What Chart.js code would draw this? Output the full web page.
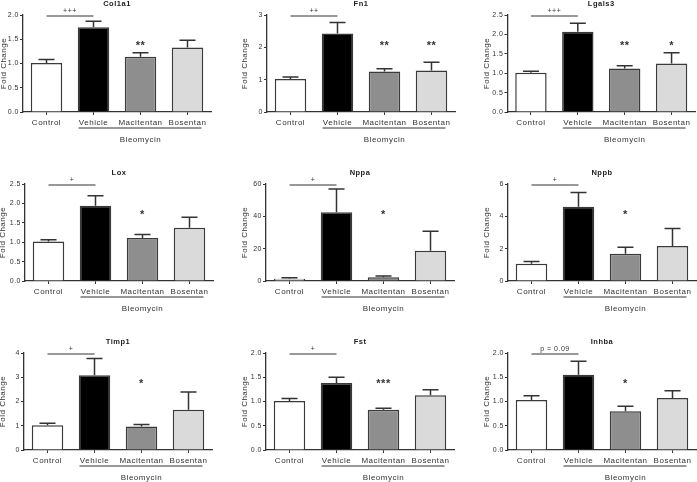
<!DOCTYPE html>
<html>
<head>
<meta charset="utf-8">
<script src="https://cdn.jsdelivr.net/npm/chart.js@4.4.1/dist/chart.umd.min.js"></script>
<style>
  body { margin: 0; background: #fff; width: 697px; height: 482px; overflow: hidden; position: relative; }
  canvas { position: absolute; }
</style>
</head>
<body>
<script>
// groups on the x axis of every panel
const groups = ['Control', 'Vehicle', 'Macitentan', 'Bosentan'];
const genes = ['Col1a1', 'Fn1', 'Lgals3', 'Lox', 'Nppa', 'Nppb', 'Timp1', 'Fst', 'Inhba'];

// mean fold change per gene, one array per group
const controlMean    = [1.01, 1.02, 1.01, 1.02, 1.4, 1.07, 1.02, 1.01, 1.03];
const vehicleMean    = [1.75, 2.43, 2.07, 1.94, 42.5, 4.60, 3.08, 1.38, 1.55];
const macitentanMean = [1.14, 1.25, 1.12, 1.11, 2.3, 1.68, 0.97, 0.83, 0.80];
const bosentanMean   = [1.33, 1.28, 1.25, 1.37, 18.7, 2.16, 1.66, 1.13, 1.07];

// upper error (SEM) per gene
const controlErr    = [0.07, 0.06, 0.04, 0.04, 0.6, 0.14, 0.08, 0.05, 0.09];
const vehicleErr    = [0.12, 0.34, 0.22, 0.26, 14.4, 0.87, 0.69, 0.12, 0.28];
const macitentanErr = [0.08, 0.09, 0.07, 0.09, 0.8, 0.40, 0.08, 0.03, 0.10];
const bosentanErr   = [0.15, 0.26, 0.28, 0.27, 12.1, 1.09, 0.73, 0.11, 0.15];

// y axis range and tick step per gene
const yMax  = [2, 3, 2.5, 2.5, 60, 6, 4, 2, 2];
const yStep = [0.5, 1, 0.5, 0.5, 20, 2, 1, 0.5, 0.5];

// Control vs Vehicle bracket label, and stars over Macitentan / Bosentan
const bracketLabel = ['+++', '++', '+++', '+', '+', '+', '+', '+', 'p = 0.09'];
const macitentanStar = ['**', '**', '**', '*', '*', '*', '*', '***', '*'];
const bosentanStar   = ['', '**', '*', '', '', '', '', '', ''];

// layout of the 3x3 grid (axis corner of each plot)
const axisX = [23, 267, 507, 25, 266, 508, 24, 266, 508];
const yAxisW = [24, 27, 25.5, 27, 26, 26, 26, 26, 26];
const rowTop = [15.3, 183.5, 352.5];
const plotW = 188, plotH = 97;
const padTop = 20, padRight = 12, xAxisH = 44;

const fillColors = ['#ffffff', '#000000', '#8e8e8e', '#dadada'];
const ink = '#333333';
const fontFamily = '"Liberation Sans", Arial, sans-serif';
const spacingPx = '0.5px';

Chart.defaults.font.family = fontFamily;
Chart.defaults.color = ink;

const spacing = {
  id: 'spacing',
  beforeUpdate(chart) { chart.ctx.letterSpacing = spacingPx; },
  beforeDraw(chart) { chart.ctx.letterSpacing = spacingPx; }
};

const extras = {
  id: 'extras',
  afterDatasetsDraw(chart, args, opts) {
    const ctx = chart.ctx;
    const xs = chart.scales.x, ys = chart.scales.y;
    const area = chart.chartArea;
    const g = opts.gene;
    const means = [controlMean[g], vehicleMean[g], macitentanMean[g], bosentanMean[g]];
    const errs = [controlErr[g], vehicleErr[g], macitentanErr[g], bosentanErr[g]];
    ctx.save();
    ctx.letterSpacing = spacingPx;
    ctx.strokeStyle = ink;
    ctx.fillStyle = ink;

    // error bars
    ctx.lineWidth = 1.5;
    means.forEach((m, i) => {
      const x = xs.getPixelForValue(i);
      const y0 = ys.getPixelForValue(m);
      const y1 = ys.getPixelForValue(m + errs[i]);
      ctx.beginPath();
      ctx.moveTo(x, y0); ctx.lineTo(x, y1);
      ctx.moveTo(x - 8, y1); ctx.lineTo(x + 8, y1);
      ctx.stroke();
    });

    // bracket Control - Vehicle
    const by = ys.getPixelForValue(yMax[g]) + 1;
    ctx.lineWidth = 1;
    ctx.beginPath();
    ctx.moveTo(xs.getPixelForValue(0), by);
    ctx.lineTo(xs.getPixelForValue(1), by);
    ctx.stroke();
    ctx.textAlign = 'center';
    ctx.textBaseline = 'alphabetic';
    ctx.font = '7px ' + fontFamily;
    ctx.fillText(bracketLabel[g], (xs.getPixelForValue(0) + xs.getPixelForValue(1)) / 2, by - 3);

    // stars
    ctx.font = 'bold 11px ' + fontFamily;
    ctx.textBaseline = 'middle';
    const sy = ys.getPixelForValue(yMax[g] * 0.7) + 2;
    ctx.fillText(macitentanStar[g], xs.getPixelForValue(2), sy);
    ctx.fillText(bosentanStar[g], xs.getPixelForValue(3), sy);

    // Bleomycin underline
    const ly = area.bottom + 16;
    ctx.lineWidth = 1;
    ctx.beginPath();
    ctx.moveTo(xs.getPixelForValue(1) - 15, ly);
    ctx.lineTo(xs.getPixelForValue(3) + 14, ly);
    ctx.stroke();
    ctx.font = '8px ' + fontFamily;
    ctx.fillText('Bleomycin', (xs.getPixelForValue(1) + xs.getPixelForValue(3)) / 2, area.bottom + 28);

    // panel title
    ctx.font = 'bold 7.5px ' + fontFamily;
    ctx.fillStyle = '#222';
    ctx.fillText(genes[g], (area.left + area.right) / 2, area.top - 11);
    ctx.restore();
  }
};

genes.forEach((gene, g) => {
  const canvas = document.createElement('canvas');
  const w = yAxisW[g] + plotW + padRight;
  const h = padTop + plotH + xAxisH;
  canvas.width = w; canvas.height = h;
  canvas.style.width = w + 'px'; canvas.style.height = h + 'px';
  canvas.style.left = (axisX[g] - yAxisW[g]) + 'px';
  canvas.style.top = (rowTop[Math.floor(g / 3)] - padTop) + 'px';
  document.body.appendChild(canvas);

  const decimals = yStep[g] < 1 ? 1 : 0;

  new Chart(canvas.getContext('2d'), {
    type: 'bar',
    data: {
      labels: groups,
      datasets: [{
        data: [controlMean[g], vehicleMean[g], macitentanMean[g], bosentanMean[g]],
        backgroundColor: fillColors,
        borderColor: '#3a3a3a',
        borderWidth: 1.5,
        barPercentage: 0.67,
        categoryPercentage: 1
      }]
    },
    options: {
      responsive: false,
      animation: false,
      devicePixelRatio: 1,
      layout: { padding: { top: padTop, right: padRight, left: 0, bottom: 0 } },
      plugins: {
        legend: { display: false },
        tooltip: { enabled: false },
        extras: { gene: g }
      },
      scales: {
        x: {
          grid: { display: true, drawOnChartArea: false, offset: false, tickLength: 3, color: ink, lineWidth: 1 },
          border: { color: ink, width: 1.3 },
          ticks: { font: { size: 8 }, color: ink, padding: 3, autoSkip: false, maxRotation: 0, minRotation: 0 },
          afterFit: s => { s.height = xAxisH; }
        },
        y: {
          min: 0,
          max: yMax[g],
          grid: { drawOnChartArea: false, tickLength: 3, color: ink, lineWidth: 1 },
          border: { color: ink, width: 1.3 },
          ticks: {
            stepSize: yStep[g], font: { size: 7 }, color: ink, padding: 1,
            callback: v => v.toFixed(decimals)
          },
          title: { display: true, text: 'Fold Change', font: { size: 8 }, color: ink, padding: 0 },
          afterFit: s => { s.width = yAxisW[g]; }
        }
      }
    },
    plugins: [spacing, extras]
  });
});
</script>
</body>
</html>
